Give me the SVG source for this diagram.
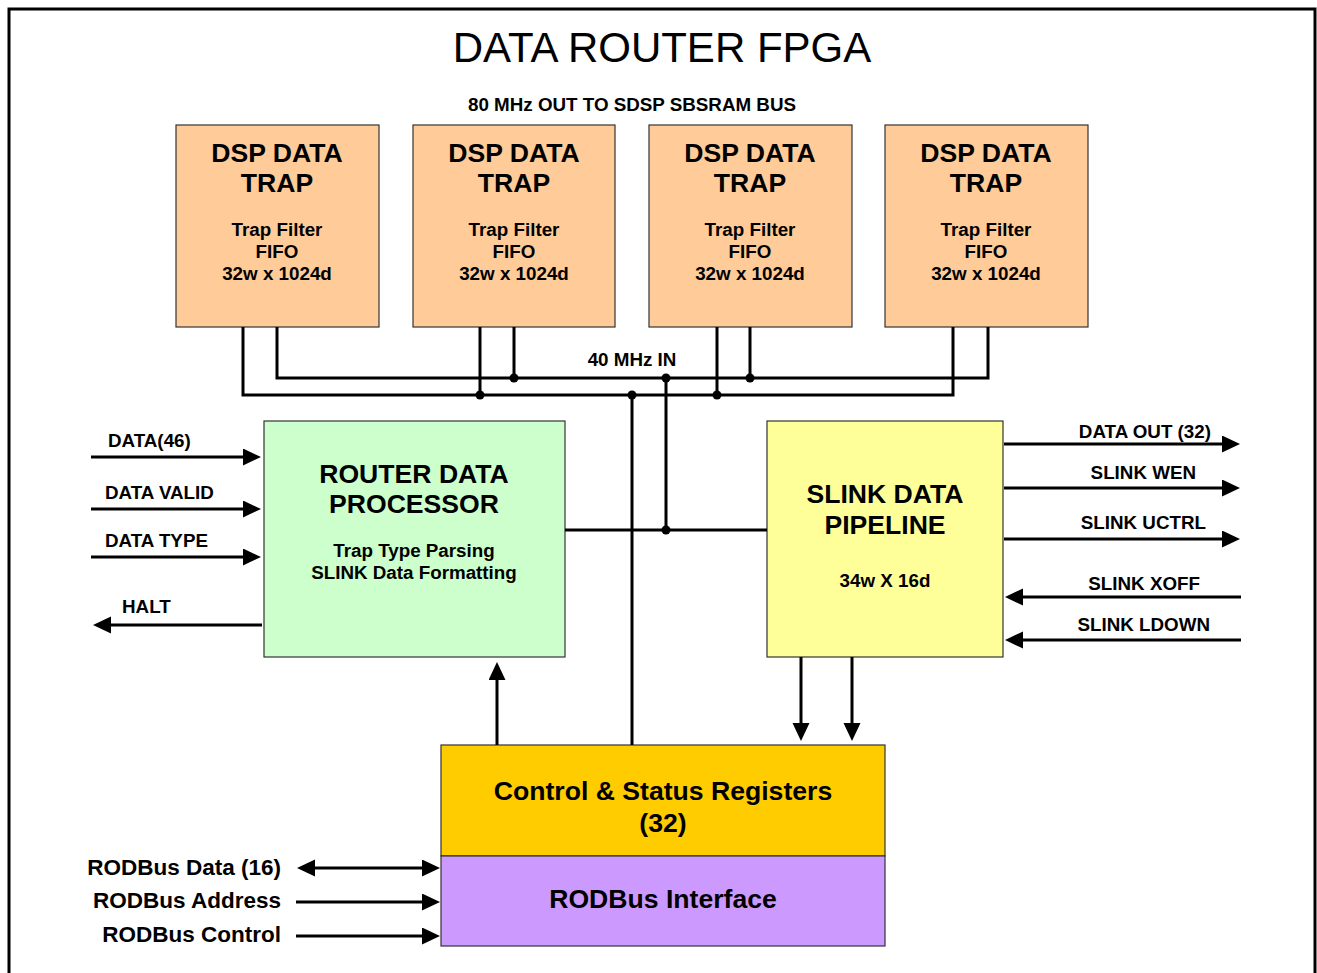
<svg xmlns="http://www.w3.org/2000/svg" width="1317" height="973" viewBox="0 0 1317 973">
  <style>
    text { font-family: "Liberation Sans", Arial, sans-serif; fill: #000; }
    .title { font-size: 42px; text-anchor: middle; }
    .big { font-size: 26.6px; font-weight: bold; text-anchor: middle; }
    .small { font-size: 18.8px; font-weight: bold; text-anchor: middle; }
    .lbl { font-size: 18.8px; font-weight: bold; }
    .end { text-anchor: end; }
    .bus { font-size: 22.5px; font-weight: bold; text-anchor: end; }
    .box { stroke: #333; stroke-width: 1.2; }
    .trap { fill: #FFCC99; }
    .wire { stroke: #000; stroke-width: 3; fill: none; }
    .arrow { stroke: #000; stroke-width: 3; fill: none; marker-end: url(#head); }
    .dot { fill: #000; }
  </style>
  <defs>
    <marker id="head" markerUnits="userSpaceOnUse" markerWidth="20" markerHeight="18" refX="2" refY="8.5" orient="auto">
      <path d="M0,0 L18,8.5 L0,17 Z" fill="#000"/>
    </marker>
    <marker id="tail" markerUnits="userSpaceOnUse" markerWidth="20" markerHeight="18" refX="2" refY="8.5" orient="auto-start-reverse">
      <path d="M0,0 L18,8.5 L0,17 Z" fill="#000"/>
    </marker>
  </defs>

  <rect x="0" y="0" width="1317" height="973" fill="#fff"/>
  <!-- FPGA outline -->
  <rect id="frame" x="9" y="9" width="1306" height="985" fill="none" stroke="#000" stroke-width="3"/>

  <text class="title" x="662" y="62">DATA ROUTER FPGA</text>
  <text class="small" x="632" y="111">80 MHz OUT TO SDSP SBSRAM BUS</text>
  <text class="small" x="632" y="366">40 MHz IN</text>

  <!-- trap FIFOs -->
  <g id="trap1">
    <rect class="box trap" x="176" y="125" width="203" height="202"/>
    <text class="big" x="277" y="162">DSP DATA</text>
    <text class="big" x="277" y="192">TRAP</text>
    <text class="small" x="277" y="236">Trap Filter</text>
    <text class="small" x="277" y="258">FIFO</text>
    <text class="small" x="277" y="280">32w x 1024d</text>
  </g>
  <g id="trap2">
    <rect class="box trap" x="413" y="125" width="202" height="202"/>
    <text class="big" x="514" y="162">DSP DATA</text>
    <text class="big" x="514" y="192">TRAP</text>
    <text class="small" x="514" y="236">Trap Filter</text>
    <text class="small" x="514" y="258">FIFO</text>
    <text class="small" x="514" y="280">32w x 1024d</text>
  </g>
  <g id="trap3">
    <rect class="box trap" x="649" y="125" width="203" height="202"/>
    <text class="big" x="750" y="162">DSP DATA</text>
    <text class="big" x="750" y="192">TRAP</text>
    <text class="small" x="750" y="236">Trap Filter</text>
    <text class="small" x="750" y="258">FIFO</text>
    <text class="small" x="750" y="280">32w x 1024d</text>
  </g>
  <g id="trap4">
    <rect class="box trap" x="885" y="125" width="203" height="202"/>
    <text class="big" x="986" y="162">DSP DATA</text>
    <text class="big" x="986" y="192">TRAP</text>
    <text class="small" x="986" y="236">Trap Filter</text>
    <text class="small" x="986" y="258">FIFO</text>
    <text class="small" x="986" y="280">32w x 1024d</text>
  </g>

  <!-- router data processor -->
  <g id="router">
    <rect class="box" x="264" y="421" width="301" height="236" fill="#CCFFCC"/>
    <text class="big" x="414" y="483">ROUTER DATA</text>
    <text class="big" x="414" y="513">PROCESSOR</text>
    <text class="small" x="414" y="557">Trap Type Parsing</text>
    <text class="small" x="414" y="579">SLINK Data Formatting</text>
  </g>

  <!-- slink pipeline -->
  <g id="slink">
    <rect class="box" x="767" y="421" width="236" height="236" fill="#FFFF99"/>
    <text class="big" x="885" y="503">SLINK DATA</text>
    <text class="big" x="885" y="534">PIPELINE</text>
    <text class="small" x="885" y="587">34w X 16d</text>
  </g>

  <!-- registers and bus interface -->
  <g id="csr">
    <rect class="box" x="441" y="745" width="444" height="111" fill="#FFCC00"/>
    <text class="big" x="663" y="800">Control &amp; Status Registers</text>
    <text class="big" x="663" y="832">(32)</text>
  </g>
  <g id="rodbus">
    <rect class="box" x="441" y="856" width="444" height="90" fill="#CC99FF"/>
    <text class="big" x="663" y="908">RODBus Interface</text>
  </g>

  <!-- connectors -->
  <g id="connectors">
    <!-- clock / data buses from trap FIFOs -->
    <polyline class="wire" points="277,327 277,378 988,378 988,327"/>
    <polyline class="wire" points="243,327 243,395 953,395 953,327"/>
    <line class="wire" x1="514" y1="327" x2="514" y2="378"/>
    <line class="wire" x1="750" y1="327" x2="750" y2="378"/>
    <line class="wire" x1="480" y1="327" x2="480" y2="395"/>
    <line class="wire" x1="717" y1="327" x2="717" y2="395"/>
    <line class="wire" x1="666" y1="378" x2="666" y2="530"/>
    <line class="wire" x1="632" y1="395" x2="632" y2="745"/>
    <line class="wire" x1="565" y1="530" x2="767" y2="530"/>
    <circle class="dot" cx="514" cy="378" r="4.5"/>
    <circle class="dot" cx="666" cy="378" r="4.5"/>
    <circle class="dot" cx="750" cy="378" r="4.5"/>
    <circle class="dot" cx="480" cy="395" r="4.5"/>
    <circle class="dot" cx="632" cy="395" r="4.5"/>
    <circle class="dot" cx="717" cy="395" r="4.5"/>
    <circle class="dot" cx="666" cy="530" r="4.5"/>

    <!-- router inputs/outputs -->
    <line class="arrow" x1="91" y1="457" x2="245" y2="457"/>
    <line class="arrow" x1="91" y1="509" x2="245" y2="509"/>
    <line class="arrow" x1="91" y1="557" x2="245" y2="557"/>
    <line class="arrow" x1="262" y1="625" x2="109" y2="625"/>
    <text class="lbl" x="108" y="447">DATA(46)</text>
    <text class="lbl" x="105" y="499">DATA VALID</text>
    <text class="lbl" x="105" y="547">DATA TYPE</text>
    <text class="lbl" x="122" y="613">HALT</text>

    <!-- slink outputs/inputs -->
    <line class="arrow" x1="1004" y1="444" x2="1224" y2="444"/>
    <line class="arrow" x1="1004" y1="488" x2="1224" y2="488"/>
    <line class="arrow" x1="1004" y1="539" x2="1224" y2="539"/>
    <line class="arrow" x1="1241" y1="597" x2="1021" y2="597"/>
    <line class="arrow" x1="1241" y1="640" x2="1021" y2="640"/>
    <text class="lbl end" x="1211" y="438">DATA OUT (32)</text>
    <text class="lbl end" x="1196" y="479">SLINK WEN</text>
    <text class="lbl end" x="1206" y="529">SLINK UCTRL</text>
    <text class="lbl end" x="1200" y="590">SLINK XOFF</text>
    <text class="lbl end" x="1210" y="631">SLINK LDOWN</text>

    <!-- register links -->
    <line class="arrow" x1="497" y1="745" x2="497" y2="678"/>
    <line class="arrow" x1="801" y1="657" x2="801" y2="725"/>
    <line class="arrow" x1="852" y1="657" x2="852" y2="725"/>

    <!-- RODBus signals -->
    <line class="arrow" x1="313" y1="868" x2="424" y2="868" style="marker-start: url(#tail)"/>
    <line class="arrow" x1="296" y1="902" x2="424" y2="902"/>
    <line class="arrow" x1="296" y1="936" x2="424" y2="936"/>
    <text class="bus" x="281" y="875">RODBus Data (16)</text>
    <text class="bus" x="281" y="908">RODBus Address</text>
    <text class="bus" x="281" y="942">RODBus Control</text>
  </g>
</svg>
